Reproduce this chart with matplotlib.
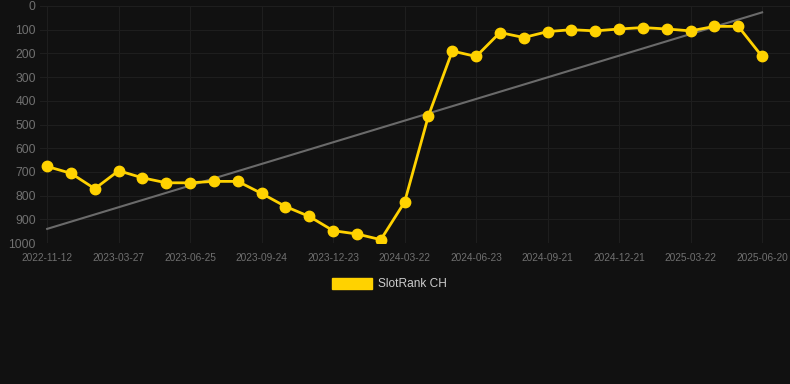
import matplotlib.pyplot as plt
import numpy as np
from matplotlib.patches import Patch

plt.rcParams['font.family'] = ['Liberation Sans', 'DejaVu Sans']

# rank per month (lower = better)
ranks = [677, 706, 771, 695, 725, 746, 746, 740, 740, 791,
         846, 888, 948, 962, 986, 827, 463, 190, 213, 112,
         133, 108, 100, 105, 97, 91, 97, 105, 86, 86, 213]
tick_labels = ['2022-11-12', '2023-03-27', '2023-06-25', '2023-09-24',
               '2023-12-23', '2024-03-22', '2024-06-23', '2024-09-21',
               '2024-12-21', '2025-03-22', '2025-06-20']
series_name = 'SlotRank CH'

bg = '#111111'
gold = '#FFD200'

fig = plt.figure(figsize=(7.9, 3.84), dpi=100, facecolor=bg)
ax = fig.add_axes([40 / 790, 1 - 243 / 384, 750 / 790, 237 / 384])
ax.set_facecolor(bg)

x = np.arange(len(ranks))

# linear trend
k, b = np.polyfit(x, ranks, 1)
ax.plot(x, k * x + b, color='#6a6a6a', lw=1.5, zorder=2)

ax.plot(x, ranks, color=gold, lw=2.0, marker='o', markersize=7.5,
        markerfacecolor=gold, markeredgecolor=gold, zorder=3)

ax.set_ylim(1000, 0)
ax.set_xlim(-0.3, len(ranks) - 1 + 1.17)
ax.set_yticks(np.arange(0, 1001, 100))
ax.set_xticks(x[::3])
ax.set_xticklabels(tick_labels)

ax.tick_params(axis='y', length=0, pad=3, labelsize=8.8, labelcolor='#707070')
ax.tick_params(axis='x', length=0, pad=7, labelsize=7.3, labelcolor='#707070')
ax.grid(True, color='#1e1e1e', lw=0.8, zorder=0)
for s in ax.spines.values():
    s.set_visible(False)

handle = Patch(facecolor=gold, edgecolor=gold)
leg = fig.legend([handle], [series_name], loc='center',
                 bbox_to_anchor=(0.493, 1 - 284 / 384), frameon=False,
                 fontsize=8.6, handlelength=3.35, handleheight=1.05,
                 handletextpad=0.45)
for t in leg.get_texts():
    t.set_color('#cccccc')

fig.savefig('out.png', dpi=100, facecolor=bg)
